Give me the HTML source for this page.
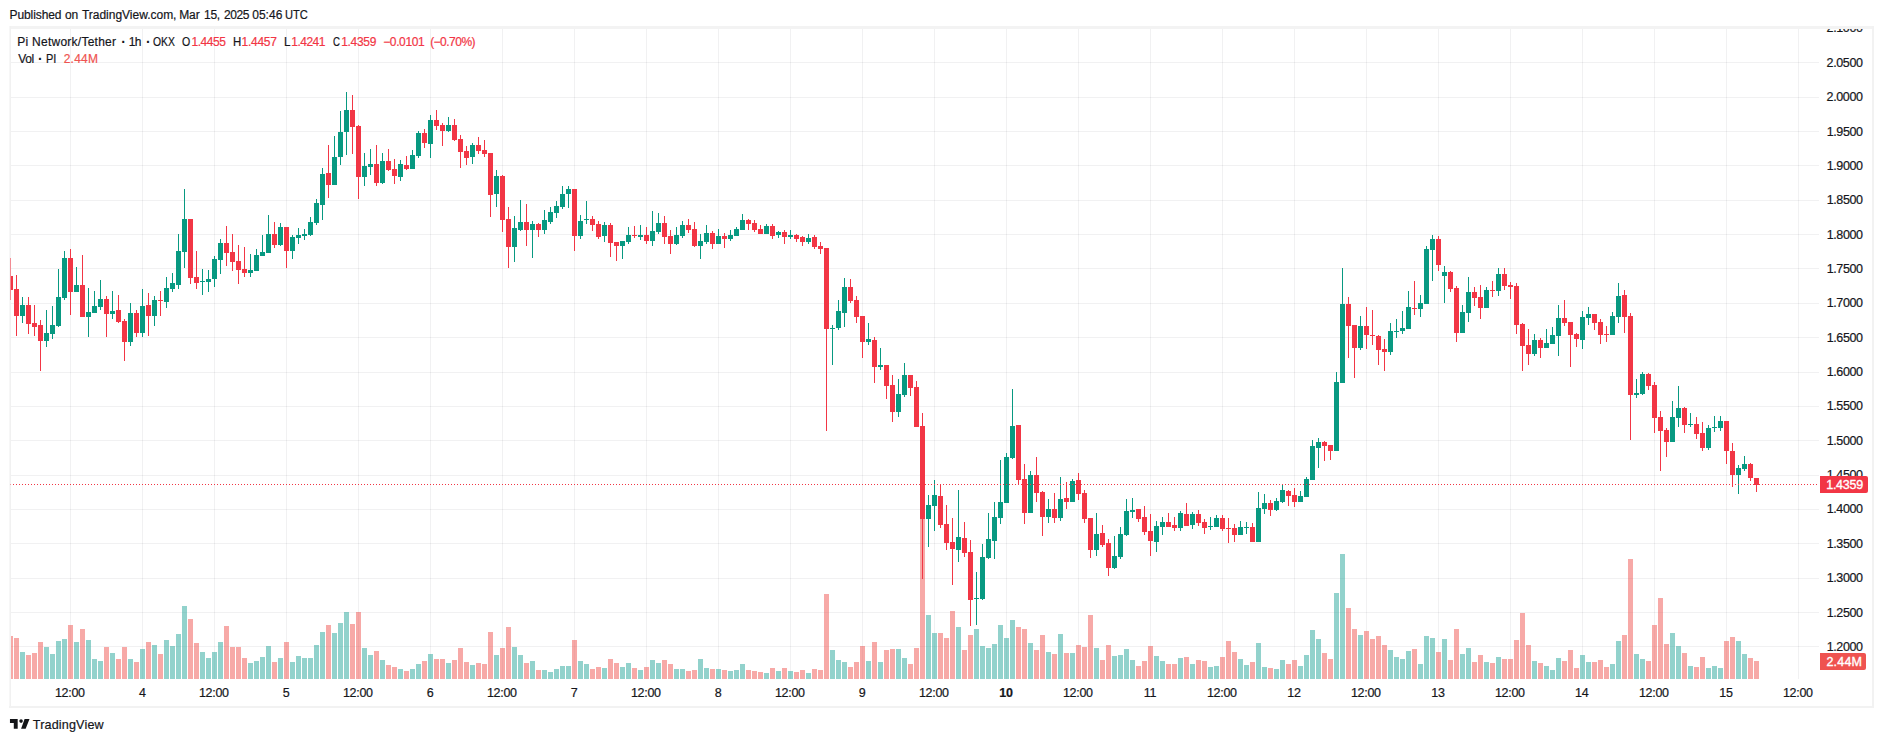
<!DOCTYPE html>
<html><head><meta charset="utf-8"><title>PIUSDT chart</title>
<style>
html,body{margin:0;padding:0;background:#fff;}
body{width:1883px;height:742px;position:relative;overflow:hidden;font-family:"Liberation Sans", sans-serif;}
.t{position:absolute;height:30px;line-height:30px;white-space:pre;transform-origin:0 0;}
</style></head><body>
<svg width="1883" height="742" viewBox="0 0 1883 742" shape-rendering="crispEdges" style="position:absolute;left:0;top:0">
<rect x="9" y="26" width="1865" height="3" fill="#f3f3f3"/>
<rect x="9" y="26" width="1" height="682" fill="#f7f7f7"/><rect x="10" y="26" width="1" height="682" fill="#f1f1f1"/>
<rect x="10" y="484" width="1" height="1" fill="#f23645" fill-opacity="0.45"/>
<rect x="1872" y="26" width="2" height="682" fill="#f2f2f2"/>
<rect x="9" y="706" width="1865" height="2" fill="#f2f2f2"/>
<clipPath id="cp"><rect x="11" y="29" width="1808" height="650"/></clipPath>
<g fill="#2a2e39" fill-opacity="0.065"><rect x="70" y="29" width="1" height="650"/><rect x="142" y="29" width="1" height="650"/><rect x="214" y="29" width="1" height="650"/><rect x="286" y="29" width="1" height="650"/><rect x="358" y="29" width="1" height="650"/><rect x="430" y="29" width="1" height="650"/><rect x="502" y="29" width="1" height="650"/><rect x="574" y="29" width="1" height="650"/><rect x="646" y="29" width="1" height="650"/><rect x="718" y="29" width="1" height="650"/><rect x="790" y="29" width="1" height="650"/><rect x="862" y="29" width="1" height="650"/><rect x="934" y="29" width="1" height="650"/><rect x="1006" y="29" width="1" height="650"/><rect x="1078" y="29" width="1" height="650"/><rect x="1150" y="29" width="1" height="650"/><rect x="1222" y="29" width="1" height="650"/><rect x="1294" y="29" width="1" height="650"/><rect x="1366" y="29" width="1" height="650"/><rect x="1438" y="29" width="1" height="650"/><rect x="1510" y="29" width="1" height="650"/><rect x="1582" y="29" width="1" height="650"/><rect x="1654" y="29" width="1" height="650"/><rect x="1726" y="29" width="1" height="650"/><rect x="1798" y="29" width="1" height="650"/><rect x="11" y="62" width="1808" height="1"/><rect x="11" y="97" width="1808" height="1"/><rect x="11" y="131" width="1808" height="1"/><rect x="11" y="165" width="1808" height="1"/><rect x="11" y="200" width="1808" height="1"/><rect x="11" y="234" width="1808" height="1"/><rect x="11" y="268" width="1808" height="1"/><rect x="11" y="303" width="1808" height="1"/><rect x="11" y="337" width="1808" height="1"/><rect x="11" y="372" width="1808" height="1"/><rect x="11" y="406" width="1808" height="1"/><rect x="11" y="440" width="1808" height="1"/><rect x="11" y="475" width="1808" height="1"/><rect x="11" y="509" width="1808" height="1"/><rect x="11" y="543" width="1808" height="1"/><rect x="11" y="578" width="1808" height="1"/><rect x="11" y="612" width="1808" height="1"/><rect x="11" y="646" width="1808" height="1"/></g>
<g clip-path="url(#cp)"><g fill="#26a69a" fill-opacity="0.5"><rect x="20" y="652" width="5" height="27"/><rect x="44" y="647" width="5" height="32"/><rect x="50" y="654" width="5" height="25"/><rect x="56" y="641" width="5" height="38"/><rect x="62" y="639" width="5" height="40"/><rect x="74" y="642" width="5" height="37"/><rect x="86" y="640" width="5" height="39"/><rect x="92" y="659" width="5" height="20"/><rect x="98" y="661" width="5" height="18"/><rect x="110" y="653" width="5" height="26"/><rect x="128" y="659" width="5" height="20"/><rect x="140" y="649" width="5" height="30"/><rect x="152" y="645" width="5" height="34"/><rect x="164" y="640" width="5" height="39"/><rect x="170" y="646" width="5" height="33"/><rect x="176" y="634" width="5" height="45"/><rect x="182" y="606" width="5" height="73"/><rect x="200" y="652" width="5" height="27"/><rect x="206" y="658" width="5" height="21"/><rect x="212" y="652" width="5" height="27"/><rect x="218" y="642" width="5" height="37"/><rect x="248" y="663" width="5" height="16"/><rect x="254" y="661" width="5" height="18"/><rect x="260" y="657" width="5" height="22"/><rect x="266" y="646" width="5" height="33"/><rect x="278" y="658" width="5" height="21"/><rect x="290" y="662" width="5" height="17"/><rect x="296" y="656" width="5" height="23"/><rect x="302" y="658" width="5" height="21"/><rect x="308" y="658" width="5" height="21"/><rect x="314" y="645" width="5" height="34"/><rect x="320" y="632" width="5" height="47"/><rect x="332" y="633" width="5" height="46"/><rect x="338" y="623" width="5" height="56"/><rect x="344" y="612" width="5" height="67"/><rect x="362" y="648" width="5" height="31"/><rect x="368" y="655" width="5" height="24"/><rect x="380" y="660" width="5" height="19"/><rect x="398" y="669" width="5" height="10"/><rect x="410" y="669" width="5" height="10"/><rect x="416" y="664" width="5" height="15"/><rect x="428" y="654" width="5" height="25"/><rect x="446" y="663" width="5" height="16"/><rect x="470" y="665" width="5" height="14"/><rect x="494" y="655" width="5" height="24"/><rect x="512" y="647" width="5" height="32"/><rect x="518" y="655" width="5" height="24"/><rect x="530" y="661" width="5" height="18"/><rect x="542" y="670" width="5" height="9"/><rect x="548" y="672" width="5" height="7"/><rect x="554" y="669" width="5" height="10"/><rect x="560" y="666" width="5" height="13"/><rect x="566" y="666" width="5" height="13"/><rect x="578" y="661" width="5" height="18"/><rect x="584" y="664" width="5" height="15"/><rect x="602" y="668" width="5" height="11"/><rect x="620" y="667" width="5" height="12"/><rect x="626" y="663" width="5" height="16"/><rect x="638" y="670" width="5" height="9"/><rect x="650" y="660" width="5" height="19"/><rect x="656" y="663" width="5" height="16"/><rect x="674" y="669" width="5" height="10"/><rect x="680" y="669" width="5" height="10"/><rect x="698" y="659" width="5" height="20"/><rect x="704" y="668" width="5" height="11"/><rect x="716" y="669" width="5" height="10"/><rect x="728" y="671" width="5" height="8"/><rect x="734" y="670" width="5" height="9"/><rect x="740" y="664" width="5" height="15"/><rect x="764" y="673" width="5" height="6"/><rect x="776" y="671" width="5" height="8"/><rect x="788" y="671" width="5" height="8"/><rect x="806" y="673" width="5" height="6"/><rect x="830" y="650" width="5" height="29"/><rect x="836" y="660" width="5" height="19"/><rect x="842" y="662" width="5" height="17"/><rect x="866" y="661" width="5" height="18"/><rect x="878" y="662" width="5" height="17"/><rect x="896" y="649" width="5" height="30"/><rect x="902" y="658" width="5" height="21"/><rect x="926" y="615" width="5" height="64"/><rect x="932" y="633" width="5" height="46"/><rect x="956" y="627" width="5" height="52"/><rect x="974" y="629" width="5" height="50"/><rect x="980" y="646" width="5" height="33"/><rect x="986" y="648" width="5" height="31"/><rect x="992" y="644" width="5" height="35"/><rect x="998" y="625" width="5" height="54"/><rect x="1004" y="638" width="5" height="41"/><rect x="1010" y="620" width="5" height="59"/><rect x="1028" y="643" width="5" height="36"/><rect x="1046" y="652" width="5" height="27"/><rect x="1058" y="634" width="5" height="45"/><rect x="1070" y="653" width="5" height="26"/><rect x="1094" y="648" width="5" height="31"/><rect x="1112" y="656" width="5" height="23"/><rect x="1118" y="655" width="5" height="24"/><rect x="1124" y="649" width="5" height="30"/><rect x="1130" y="660" width="5" height="19"/><rect x="1154" y="656" width="5" height="23"/><rect x="1160" y="661" width="5" height="18"/><rect x="1178" y="658" width="5" height="21"/><rect x="1190" y="664" width="5" height="15"/><rect x="1208" y="667" width="5" height="12"/><rect x="1214" y="666" width="5" height="13"/><rect x="1238" y="659" width="5" height="20"/><rect x="1244" y="665" width="5" height="14"/><rect x="1256" y="643" width="5" height="36"/><rect x="1262" y="667" width="5" height="12"/><rect x="1274" y="669" width="5" height="10"/><rect x="1280" y="660" width="5" height="19"/><rect x="1298" y="666" width="5" height="13"/><rect x="1304" y="655" width="5" height="24"/><rect x="1310" y="630" width="5" height="49"/><rect x="1316" y="639" width="5" height="40"/><rect x="1334" y="593" width="5" height="86"/><rect x="1340" y="554" width="5" height="125"/><rect x="1358" y="635" width="5" height="44"/><rect x="1388" y="650" width="5" height="29"/><rect x="1394" y="657" width="5" height="22"/><rect x="1400" y="659" width="5" height="20"/><rect x="1406" y="651" width="5" height="28"/><rect x="1418" y="664" width="5" height="15"/><rect x="1424" y="636" width="5" height="43"/><rect x="1430" y="638" width="5" height="41"/><rect x="1442" y="639" width="5" height="40"/><rect x="1460" y="654" width="5" height="25"/><rect x="1466" y="648" width="5" height="31"/><rect x="1484" y="662" width="5" height="17"/><rect x="1496" y="657" width="5" height="22"/><rect x="1532" y="661" width="5" height="18"/><rect x="1544" y="666" width="5" height="13"/><rect x="1550" y="670" width="5" height="9"/><rect x="1556" y="658" width="5" height="21"/><rect x="1580" y="655" width="5" height="24"/><rect x="1586" y="662" width="5" height="17"/><rect x="1610" y="664" width="5" height="15"/><rect x="1616" y="641" width="5" height="38"/><rect x="1634" y="654" width="5" height="25"/><rect x="1640" y="659" width="5" height="20"/><rect x="1670" y="633" width="5" height="46"/><rect x="1676" y="646" width="5" height="33"/><rect x="1688" y="666" width="5" height="13"/><rect x="1706" y="668" width="5" height="11"/><rect x="1712" y="666" width="5" height="13"/><rect x="1718" y="668" width="5" height="11"/><rect x="1736" y="641" width="5" height="38"/><rect x="1742" y="654" width="5" height="25"/></g><g fill="#ef5350" fill-opacity="0.5"><rect x="8" y="636" width="5" height="43"/><rect x="14" y="638" width="5" height="41"/><rect x="26" y="655" width="5" height="24"/><rect x="32" y="653" width="5" height="26"/><rect x="38" y="642" width="5" height="37"/><rect x="68" y="625" width="5" height="54"/><rect x="80" y="629" width="5" height="50"/><rect x="104" y="647" width="5" height="32"/><rect x="116" y="659" width="5" height="20"/><rect x="122" y="647" width="5" height="32"/><rect x="134" y="662" width="5" height="17"/><rect x="146" y="642" width="5" height="37"/><rect x="158" y="654" width="5" height="25"/><rect x="188" y="619" width="5" height="60"/><rect x="194" y="643" width="5" height="36"/><rect x="224" y="626" width="5" height="53"/><rect x="230" y="647" width="5" height="32"/><rect x="236" y="647" width="5" height="32"/><rect x="242" y="658" width="5" height="21"/><rect x="272" y="662" width="5" height="17"/><rect x="284" y="642" width="5" height="37"/><rect x="326" y="625" width="5" height="54"/><rect x="350" y="624" width="5" height="55"/><rect x="356" y="612" width="5" height="67"/><rect x="374" y="651" width="5" height="28"/><rect x="386" y="665" width="5" height="14"/><rect x="392" y="667" width="5" height="12"/><rect x="404" y="671" width="5" height="8"/><rect x="422" y="661" width="5" height="18"/><rect x="434" y="659" width="5" height="20"/><rect x="440" y="659" width="5" height="20"/><rect x="452" y="660" width="5" height="19"/><rect x="458" y="648" width="5" height="31"/><rect x="464" y="662" width="5" height="17"/><rect x="476" y="663" width="5" height="16"/><rect x="482" y="664" width="5" height="15"/><rect x="488" y="632" width="5" height="47"/><rect x="500" y="648" width="5" height="31"/><rect x="506" y="627" width="5" height="52"/><rect x="524" y="663" width="5" height="16"/><rect x="536" y="670" width="5" height="9"/><rect x="572" y="640" width="5" height="39"/><rect x="590" y="669" width="5" height="10"/><rect x="596" y="667" width="5" height="12"/><rect x="608" y="659" width="5" height="20"/><rect x="614" y="663" width="5" height="16"/><rect x="632" y="668" width="5" height="11"/><rect x="644" y="667" width="5" height="12"/><rect x="662" y="660" width="5" height="19"/><rect x="668" y="664" width="5" height="15"/><rect x="686" y="671" width="5" height="8"/><rect x="692" y="670" width="5" height="9"/><rect x="710" y="669" width="5" height="10"/><rect x="722" y="670" width="5" height="9"/><rect x="746" y="670" width="5" height="9"/><rect x="752" y="671" width="5" height="8"/><rect x="758" y="672" width="5" height="7"/><rect x="770" y="668" width="5" height="11"/><rect x="782" y="668" width="5" height="11"/><rect x="794" y="672" width="5" height="7"/><rect x="800" y="670" width="5" height="9"/><rect x="812" y="669" width="5" height="10"/><rect x="818" y="670" width="5" height="9"/><rect x="824" y="594" width="5" height="85"/><rect x="848" y="667" width="5" height="12"/><rect x="854" y="662" width="5" height="17"/><rect x="860" y="646" width="5" height="33"/><rect x="872" y="642" width="5" height="37"/><rect x="884" y="650" width="5" height="29"/><rect x="890" y="649" width="5" height="30"/><rect x="908" y="664" width="5" height="15"/><rect x="914" y="648" width="5" height="31"/><rect x="920" y="505" width="5" height="174"/><rect x="938" y="633" width="5" height="46"/><rect x="944" y="638" width="5" height="41"/><rect x="950" y="611" width="5" height="68"/><rect x="962" y="650" width="5" height="29"/><rect x="968" y="635" width="5" height="44"/><rect x="1016" y="627" width="5" height="52"/><rect x="1022" y="629" width="5" height="50"/><rect x="1034" y="650" width="5" height="29"/><rect x="1040" y="635" width="5" height="44"/><rect x="1052" y="654" width="5" height="25"/><rect x="1064" y="653" width="5" height="26"/><rect x="1076" y="645" width="5" height="34"/><rect x="1082" y="647" width="5" height="32"/><rect x="1088" y="615" width="5" height="64"/><rect x="1100" y="660" width="5" height="19"/><rect x="1106" y="645" width="5" height="34"/><rect x="1136" y="666" width="5" height="13"/><rect x="1142" y="661" width="5" height="18"/><rect x="1148" y="646" width="5" height="33"/><rect x="1166" y="664" width="5" height="15"/><rect x="1172" y="664" width="5" height="15"/><rect x="1184" y="657" width="5" height="22"/><rect x="1196" y="660" width="5" height="19"/><rect x="1202" y="661" width="5" height="18"/><rect x="1220" y="657" width="5" height="22"/><rect x="1226" y="641" width="5" height="38"/><rect x="1232" y="652" width="5" height="27"/><rect x="1250" y="662" width="5" height="17"/><rect x="1268" y="668" width="5" height="11"/><rect x="1286" y="664" width="5" height="15"/><rect x="1292" y="660" width="5" height="19"/><rect x="1322" y="653" width="5" height="26"/><rect x="1328" y="659" width="5" height="20"/><rect x="1346" y="608" width="5" height="71"/><rect x="1352" y="629" width="5" height="50"/><rect x="1364" y="631" width="5" height="48"/><rect x="1370" y="639" width="5" height="40"/><rect x="1376" y="636" width="5" height="43"/><rect x="1382" y="645" width="5" height="34"/><rect x="1412" y="649" width="5" height="30"/><rect x="1436" y="652" width="5" height="27"/><rect x="1448" y="660" width="5" height="19"/><rect x="1454" y="629" width="5" height="50"/><rect x="1472" y="662" width="5" height="17"/><rect x="1478" y="655" width="5" height="24"/><rect x="1490" y="663" width="5" height="16"/><rect x="1502" y="659" width="5" height="20"/><rect x="1508" y="659" width="5" height="20"/><rect x="1514" y="640" width="5" height="39"/><rect x="1520" y="613" width="5" height="66"/><rect x="1526" y="645" width="5" height="34"/><rect x="1538" y="663" width="5" height="16"/><rect x="1562" y="661" width="5" height="18"/><rect x="1568" y="650" width="5" height="29"/><rect x="1574" y="668" width="5" height="11"/><rect x="1592" y="662" width="5" height="17"/><rect x="1598" y="660" width="5" height="19"/><rect x="1604" y="667" width="5" height="12"/><rect x="1622" y="635" width="5" height="44"/><rect x="1628" y="559" width="5" height="120"/><rect x="1646" y="661" width="5" height="18"/><rect x="1652" y="625" width="5" height="54"/><rect x="1658" y="598" width="5" height="81"/><rect x="1664" y="644" width="5" height="35"/><rect x="1682" y="653" width="5" height="26"/><rect x="1694" y="667" width="5" height="12"/><rect x="1700" y="657" width="5" height="22"/><rect x="1724" y="641" width="5" height="38"/><rect x="1730" y="637" width="5" height="42"/><rect x="1748" y="658" width="5" height="21"/><rect x="1754" y="661" width="5" height="18"/></g></g>
<g clip-path="url(#cp)"><g fill="#089981"><rect x="22" y="297" width="1" height="26"/><rect x="20" y="305" width="5" height="11"/><rect x="46" y="310" width="1" height="37"/><rect x="44" y="333" width="5" height="8"/><rect x="52" y="306" width="1" height="33"/><rect x="50" y="325" width="5" height="9"/><rect x="58" y="269" width="1" height="58"/><rect x="56" y="297" width="5" height="29"/><rect x="64" y="251" width="1" height="49"/><rect x="62" y="258" width="5" height="40"/><rect x="76" y="267" width="1" height="25"/><rect x="74" y="285" width="5" height="7"/><rect x="88" y="288" width="1" height="49"/><rect x="86" y="312" width="5" height="5"/><rect x="94" y="291" width="1" height="22"/><rect x="92" y="306" width="5" height="7"/><rect x="100" y="280" width="1" height="30"/><rect x="98" y="299" width="5" height="8"/><rect x="112" y="291" width="1" height="28"/><rect x="110" y="311" width="5" height="3"/><rect x="130" y="303" width="1" height="43"/><rect x="128" y="313" width="5" height="29"/><rect x="142" y="289" width="1" height="48"/><rect x="140" y="306" width="5" height="27"/><rect x="154" y="296" width="1" height="30"/><rect x="152" y="300" width="5" height="16"/><rect x="166" y="277" width="1" height="31"/><rect x="164" y="288" width="5" height="14"/><rect x="172" y="273" width="1" height="19"/><rect x="170" y="283" width="5" height="6"/><rect x="178" y="234" width="1" height="55"/><rect x="176" y="251" width="5" height="34"/><rect x="184" y="189" width="1" height="79"/><rect x="182" y="219" width="5" height="33"/><rect x="202" y="269" width="1" height="26"/><rect x="200" y="281" width="5" height="1"/><rect x="208" y="270" width="1" height="22"/><rect x="206" y="279" width="5" height="3"/><rect x="214" y="256" width="1" height="31"/><rect x="212" y="259" width="5" height="20"/><rect x="220" y="239" width="1" height="35"/><rect x="218" y="243" width="5" height="17"/><rect x="250" y="254" width="1" height="23"/><rect x="248" y="270" width="5" height="3"/><rect x="256" y="249" width="1" height="22"/><rect x="254" y="255" width="5" height="16"/><rect x="262" y="235" width="1" height="21"/><rect x="260" y="252" width="5" height="4"/><rect x="268" y="215" width="1" height="38"/><rect x="266" y="234" width="5" height="19"/><rect x="280" y="223" width="1" height="23"/><rect x="278" y="227" width="5" height="18"/><rect x="292" y="235" width="1" height="24"/><rect x="290" y="237" width="5" height="14"/><rect x="298" y="228" width="1" height="16"/><rect x="296" y="235" width="5" height="3"/><rect x="304" y="229" width="1" height="11"/><rect x="302" y="234" width="5" height="2"/><rect x="310" y="217" width="1" height="19"/><rect x="308" y="222" width="5" height="13"/><rect x="316" y="199" width="1" height="26"/><rect x="314" y="203" width="5" height="20"/><rect x="322" y="168" width="1" height="52"/><rect x="320" y="174" width="5" height="31"/><rect x="334" y="136" width="1" height="49"/><rect x="332" y="157" width="5" height="28"/><rect x="340" y="111" width="1" height="54"/><rect x="338" y="132" width="5" height="25"/><rect x="346" y="92" width="1" height="63"/><rect x="344" y="110" width="5" height="22"/><rect x="364" y="153" width="1" height="33"/><rect x="362" y="166" width="5" height="11"/><rect x="370" y="149" width="1" height="26"/><rect x="368" y="164" width="5" height="3"/><rect x="382" y="153" width="1" height="31"/><rect x="380" y="161" width="5" height="22"/><rect x="400" y="160" width="1" height="21"/><rect x="398" y="164" width="5" height="13"/><rect x="412" y="150" width="1" height="19"/><rect x="410" y="155" width="5" height="14"/><rect x="418" y="131" width="1" height="27"/><rect x="416" y="133" width="5" height="23"/><rect x="430" y="115" width="1" height="43"/><rect x="428" y="120" width="5" height="24"/><rect x="448" y="117" width="1" height="15"/><rect x="446" y="125" width="5" height="6"/><rect x="472" y="143" width="1" height="21"/><rect x="470" y="145" width="5" height="12"/><rect x="496" y="170" width="1" height="37"/><rect x="494" y="176" width="5" height="18"/><rect x="514" y="216" width="1" height="46"/><rect x="512" y="228" width="5" height="19"/><rect x="520" y="200" width="1" height="31"/><rect x="518" y="222" width="5" height="8"/><rect x="532" y="221" width="1" height="37"/><rect x="530" y="224" width="5" height="6"/><rect x="544" y="210" width="1" height="24"/><rect x="542" y="220" width="5" height="10"/><rect x="550" y="207" width="1" height="17"/><rect x="548" y="212" width="5" height="10"/><rect x="556" y="201" width="1" height="17"/><rect x="554" y="206" width="5" height="7"/><rect x="562" y="186" width="1" height="23"/><rect x="560" y="194" width="5" height="13"/><rect x="568" y="186" width="1" height="22"/><rect x="566" y="189" width="5" height="5"/><rect x="580" y="215" width="1" height="24"/><rect x="578" y="221" width="5" height="15"/><rect x="586" y="201" width="1" height="23"/><rect x="584" y="219" width="5" height="1"/><rect x="604" y="222" width="1" height="20"/><rect x="602" y="225" width="5" height="11"/><rect x="622" y="241" width="1" height="18"/><rect x="620" y="241" width="5" height="5"/><rect x="628" y="227" width="1" height="17"/><rect x="626" y="235" width="5" height="7"/><rect x="640" y="225" width="1" height="15"/><rect x="638" y="235" width="5" height="2"/><rect x="652" y="211" width="1" height="35"/><rect x="650" y="231" width="5" height="10"/><rect x="658" y="213" width="1" height="21"/><rect x="656" y="223" width="5" height="9"/><rect x="676" y="227" width="1" height="18"/><rect x="674" y="235" width="5" height="9"/><rect x="682" y="221" width="1" height="17"/><rect x="680" y="225" width="5" height="11"/><rect x="700" y="234" width="1" height="25"/><rect x="698" y="241" width="5" height="5"/><rect x="706" y="225" width="1" height="19"/><rect x="704" y="233" width="5" height="9"/><rect x="718" y="229" width="1" height="15"/><rect x="716" y="236" width="5" height="8"/><rect x="730" y="230" width="1" height="11"/><rect x="728" y="235" width="5" height="4"/><rect x="736" y="227" width="1" height="9"/><rect x="734" y="229" width="5" height="7"/><rect x="742" y="214" width="1" height="16"/><rect x="740" y="220" width="5" height="10"/><rect x="766" y="224" width="1" height="10"/><rect x="764" y="226" width="5" height="8"/><rect x="778" y="231" width="1" height="7"/><rect x="776" y="232" width="5" height="3"/><rect x="790" y="230" width="1" height="9"/><rect x="788" y="235" width="5" height="2"/><rect x="808" y="234" width="1" height="10"/><rect x="806" y="238" width="5" height="4"/><rect x="832" y="325" width="1" height="40"/><rect x="830" y="328" width="5" height="1"/><rect x="838" y="300" width="1" height="30"/><rect x="836" y="311" width="5" height="17"/><rect x="844" y="278" width="1" height="49"/><rect x="842" y="287" width="5" height="26"/><rect x="868" y="323" width="1" height="22"/><rect x="866" y="339" width="5" height="3"/><rect x="880" y="348" width="1" height="22"/><rect x="878" y="365" width="5" height="2"/><rect x="898" y="379" width="1" height="38"/><rect x="896" y="394" width="5" height="18"/><rect x="904" y="363" width="1" height="34"/><rect x="902" y="375" width="5" height="20"/><rect x="928" y="495" width="1" height="52"/><rect x="926" y="505" width="5" height="14"/><rect x="934" y="480" width="1" height="51"/><rect x="932" y="495" width="5" height="11"/><rect x="958" y="490" width="1" height="72"/><rect x="956" y="537" width="5" height="13"/><rect x="976" y="572" width="1" height="53"/><rect x="974" y="598" width="5" height="1"/><rect x="982" y="544" width="1" height="56"/><rect x="980" y="557" width="5" height="42"/><rect x="988" y="513" width="1" height="46"/><rect x="986" y="539" width="5" height="19"/><rect x="994" y="502" width="1" height="57"/><rect x="992" y="517" width="5" height="24"/><rect x="1000" y="460" width="1" height="64"/><rect x="998" y="502" width="5" height="16"/><rect x="1006" y="453" width="1" height="50"/><rect x="1004" y="457" width="5" height="46"/><rect x="1012" y="389" width="1" height="70"/><rect x="1010" y="426" width="5" height="32"/><rect x="1030" y="471" width="1" height="42"/><rect x="1028" y="475" width="5" height="38"/><rect x="1048" y="499" width="1" height="24"/><rect x="1046" y="509" width="5" height="8"/><rect x="1060" y="477" width="1" height="44"/><rect x="1058" y="499" width="5" height="19"/><rect x="1072" y="479" width="1" height="23"/><rect x="1070" y="481" width="5" height="21"/><rect x="1096" y="513" width="1" height="43"/><rect x="1094" y="534" width="5" height="16"/><rect x="1114" y="536" width="1" height="33"/><rect x="1112" y="556" width="5" height="12"/><rect x="1120" y="527" width="1" height="32"/><rect x="1118" y="534" width="5" height="23"/><rect x="1126" y="499" width="1" height="37"/><rect x="1124" y="511" width="5" height="24"/><rect x="1132" y="498" width="1" height="20"/><rect x="1130" y="510" width="5" height="2"/><rect x="1156" y="521" width="1" height="31"/><rect x="1154" y="526" width="5" height="16"/><rect x="1162" y="517" width="1" height="18"/><rect x="1160" y="522" width="5" height="5"/><rect x="1180" y="511" width="1" height="20"/><rect x="1178" y="513" width="5" height="15"/><rect x="1192" y="512" width="1" height="17"/><rect x="1190" y="514" width="5" height="11"/><rect x="1210" y="517" width="1" height="13"/><rect x="1208" y="526" width="5" height="1"/><rect x="1216" y="515" width="1" height="12"/><rect x="1214" y="518" width="5" height="9"/><rect x="1240" y="521" width="1" height="14"/><rect x="1238" y="527" width="5" height="8"/><rect x="1246" y="522" width="1" height="12"/><rect x="1244" y="527" width="5" height="1"/><rect x="1258" y="492" width="1" height="50"/><rect x="1256" y="508" width="5" height="34"/><rect x="1264" y="494" width="1" height="20"/><rect x="1262" y="503" width="5" height="6"/><rect x="1276" y="498" width="1" height="13"/><rect x="1274" y="501" width="5" height="9"/><rect x="1282" y="484" width="1" height="19"/><rect x="1280" y="490" width="5" height="12"/><rect x="1300" y="491" width="1" height="11"/><rect x="1298" y="496" width="5" height="6"/><rect x="1306" y="477" width="1" height="20"/><rect x="1304" y="479" width="5" height="18"/><rect x="1312" y="440" width="1" height="40"/><rect x="1310" y="446" width="5" height="34"/><rect x="1318" y="438" width="1" height="30"/><rect x="1316" y="442" width="5" height="6"/><rect x="1336" y="372" width="1" height="79"/><rect x="1334" y="382" width="5" height="69"/><rect x="1342" y="268" width="1" height="115"/><rect x="1340" y="304" width="5" height="79"/><rect x="1360" y="316" width="1" height="34"/><rect x="1358" y="326" width="5" height="22"/><rect x="1390" y="323" width="1" height="32"/><rect x="1388" y="331" width="5" height="21"/><rect x="1396" y="319" width="1" height="19"/><rect x="1394" y="331" width="5" height="1"/><rect x="1402" y="311" width="1" height="23"/><rect x="1400" y="328" width="5" height="3"/><rect x="1408" y="291" width="1" height="38"/><rect x="1406" y="307" width="5" height="22"/><rect x="1420" y="295" width="1" height="22"/><rect x="1418" y="303" width="5" height="6"/><rect x="1426" y="246" width="1" height="58"/><rect x="1424" y="249" width="5" height="55"/><rect x="1432" y="235" width="1" height="46"/><rect x="1430" y="239" width="5" height="11"/><rect x="1444" y="266" width="1" height="37"/><rect x="1442" y="272" width="5" height="4"/><rect x="1462" y="305" width="1" height="28"/><rect x="1460" y="312" width="5" height="21"/><rect x="1468" y="277" width="1" height="45"/><rect x="1466" y="292" width="5" height="21"/><rect x="1486" y="287" width="1" height="21"/><rect x="1484" y="290" width="5" height="18"/><rect x="1498" y="268" width="1" height="28"/><rect x="1496" y="274" width="5" height="17"/><rect x="1534" y="334" width="1" height="22"/><rect x="1532" y="340" width="5" height="14"/><rect x="1546" y="329" width="1" height="19"/><rect x="1544" y="343" width="5" height="5"/><rect x="1552" y="327" width="1" height="17"/><rect x="1550" y="335" width="5" height="9"/><rect x="1558" y="305" width="1" height="51"/><rect x="1556" y="318" width="5" height="18"/><rect x="1582" y="311" width="1" height="38"/><rect x="1580" y="317" width="5" height="23"/><rect x="1588" y="307" width="1" height="18"/><rect x="1586" y="314" width="5" height="4"/><rect x="1612" y="312" width="1" height="23"/><rect x="1610" y="316" width="5" height="19"/><rect x="1618" y="283" width="1" height="40"/><rect x="1616" y="296" width="5" height="21"/><rect x="1636" y="379" width="1" height="19"/><rect x="1634" y="393" width="5" height="2"/><rect x="1642" y="372" width="1" height="23"/><rect x="1640" y="374" width="5" height="20"/><rect x="1672" y="401" width="1" height="41"/><rect x="1670" y="417" width="5" height="25"/><rect x="1678" y="386" width="1" height="41"/><rect x="1676" y="408" width="5" height="10"/><rect x="1690" y="413" width="1" height="14"/><rect x="1688" y="424" width="5" height="1"/><rect x="1708" y="425" width="1" height="25"/><rect x="1706" y="428" width="5" height="20"/><rect x="1714" y="416" width="1" height="16"/><rect x="1712" y="427" width="5" height="1"/><rect x="1720" y="416" width="1" height="15"/><rect x="1718" y="421" width="5" height="7"/><rect x="1738" y="465" width="1" height="29"/><rect x="1736" y="468" width="5" height="7"/><rect x="1744" y="456" width="1" height="15"/><rect x="1742" y="464" width="5" height="5"/></g><g fill="#f23645"><rect x="10" y="258" width="1" height="42"/><rect x="8" y="276" width="5" height="14"/><rect x="16" y="275" width="1" height="61"/><rect x="14" y="289" width="5" height="27"/><rect x="28" y="297" width="1" height="37"/><rect x="26" y="305" width="5" height="19"/><rect x="34" y="305" width="1" height="31"/><rect x="32" y="323" width="5" height="4"/><rect x="40" y="320" width="1" height="51"/><rect x="38" y="325" width="5" height="16"/><rect x="70" y="249" width="1" height="66"/><rect x="68" y="258" width="5" height="34"/><rect x="82" y="255" width="1" height="62"/><rect x="80" y="285" width="5" height="32"/><rect x="106" y="296" width="1" height="41"/><rect x="104" y="299" width="5" height="15"/><rect x="118" y="295" width="1" height="28"/><rect x="116" y="310" width="5" height="12"/><rect x="124" y="319" width="1" height="42"/><rect x="122" y="321" width="5" height="21"/><rect x="136" y="310" width="1" height="27"/><rect x="134" y="313" width="5" height="20"/><rect x="148" y="293" width="1" height="43"/><rect x="146" y="305" width="5" height="11"/><rect x="160" y="291" width="1" height="25"/><rect x="158" y="300" width="5" height="1"/><rect x="190" y="219" width="1" height="65"/><rect x="188" y="219" width="5" height="59"/><rect x="196" y="251" width="1" height="38"/><rect x="194" y="277" width="5" height="6"/><rect x="226" y="226" width="1" height="40"/><rect x="224" y="243" width="5" height="10"/><rect x="232" y="234" width="1" height="37"/><rect x="230" y="252" width="5" height="10"/><rect x="238" y="245" width="1" height="39"/><rect x="236" y="261" width="5" height="9"/><rect x="244" y="247" width="1" height="30"/><rect x="242" y="269" width="5" height="4"/><rect x="274" y="222" width="1" height="26"/><rect x="272" y="234" width="5" height="11"/><rect x="286" y="227" width="1" height="41"/><rect x="284" y="227" width="5" height="24"/><rect x="328" y="145" width="1" height="53"/><rect x="326" y="173" width="5" height="12"/><rect x="352" y="95" width="1" height="59"/><rect x="350" y="110" width="5" height="17"/><rect x="358" y="125" width="1" height="74"/><rect x="356" y="126" width="5" height="51"/><rect x="376" y="145" width="1" height="41"/><rect x="374" y="164" width="5" height="19"/><rect x="388" y="149" width="1" height="22"/><rect x="386" y="161" width="5" height="9"/><rect x="394" y="159" width="1" height="25"/><rect x="392" y="169" width="5" height="7"/><rect x="406" y="156" width="1" height="14"/><rect x="404" y="165" width="5" height="4"/><rect x="424" y="129" width="1" height="19"/><rect x="422" y="133" width="5" height="10"/><rect x="436" y="110" width="1" height="20"/><rect x="434" y="120" width="5" height="6"/><rect x="442" y="123" width="1" height="23"/><rect x="440" y="125" width="5" height="6"/><rect x="454" y="119" width="1" height="22"/><rect x="452" y="125" width="5" height="15"/><rect x="460" y="135" width="1" height="33"/><rect x="458" y="139" width="5" height="13"/><rect x="466" y="146" width="1" height="19"/><rect x="464" y="151" width="5" height="7"/><rect x="478" y="137" width="1" height="17"/><rect x="476" y="145" width="5" height="6"/><rect x="484" y="140" width="1" height="17"/><rect x="482" y="150" width="5" height="4"/><rect x="490" y="153" width="1" height="64"/><rect x="488" y="153" width="5" height="42"/><rect x="502" y="175" width="1" height="57"/><rect x="500" y="176" width="5" height="44"/><rect x="508" y="207" width="1" height="61"/><rect x="506" y="219" width="5" height="28"/><rect x="526" y="204" width="1" height="42"/><rect x="524" y="222" width="5" height="8"/><rect x="538" y="223" width="1" height="14"/><rect x="536" y="224" width="5" height="6"/><rect x="574" y="189" width="1" height="62"/><rect x="572" y="189" width="5" height="47"/><rect x="592" y="216" width="1" height="15"/><rect x="590" y="219" width="5" height="6"/><rect x="598" y="221" width="1" height="18"/><rect x="596" y="224" width="5" height="13"/><rect x="610" y="223" width="1" height="34"/><rect x="608" y="225" width="5" height="18"/><rect x="616" y="242" width="1" height="19"/><rect x="614" y="242" width="5" height="4"/><rect x="634" y="226" width="1" height="12"/><rect x="632" y="235" width="5" height="1"/><rect x="646" y="227" width="1" height="17"/><rect x="644" y="235" width="5" height="6"/><rect x="664" y="216" width="1" height="28"/><rect x="662" y="223" width="5" height="14"/><rect x="670" y="230" width="1" height="24"/><rect x="668" y="236" width="5" height="8"/><rect x="688" y="219" width="1" height="14"/><rect x="686" y="225" width="5" height="5"/><rect x="694" y="222" width="1" height="25"/><rect x="692" y="229" width="5" height="17"/><rect x="712" y="231" width="1" height="18"/><rect x="710" y="233" width="5" height="11"/><rect x="724" y="233" width="1" height="15"/><rect x="722" y="236" width="5" height="3"/><rect x="748" y="219" width="1" height="11"/><rect x="746" y="220" width="5" height="4"/><rect x="754" y="220" width="1" height="12"/><rect x="752" y="223" width="5" height="7"/><rect x="760" y="225" width="1" height="9"/><rect x="758" y="229" width="5" height="5"/><rect x="772" y="224" width="1" height="15"/><rect x="770" y="226" width="5" height="10"/><rect x="784" y="230" width="1" height="14"/><rect x="782" y="232" width="5" height="5"/><rect x="796" y="234" width="1" height="8"/><rect x="794" y="235" width="5" height="4"/><rect x="802" y="236" width="1" height="10"/><rect x="800" y="237" width="5" height="5"/><rect x="814" y="235" width="1" height="14"/><rect x="812" y="237" width="5" height="10"/><rect x="820" y="242" width="1" height="12"/><rect x="818" y="246" width="5" height="3"/><rect x="826" y="248" width="1" height="183"/><rect x="824" y="248" width="5" height="81"/><rect x="850" y="279" width="1" height="24"/><rect x="848" y="287" width="5" height="14"/><rect x="856" y="296" width="1" height="27"/><rect x="854" y="300" width="5" height="17"/><rect x="862" y="316" width="1" height="42"/><rect x="860" y="316" width="5" height="26"/><rect x="874" y="337" width="1" height="46"/><rect x="872" y="340" width="5" height="27"/><rect x="886" y="365" width="1" height="34"/><rect x="884" y="365" width="5" height="21"/><rect x="892" y="375" width="1" height="47"/><rect x="890" y="385" width="5" height="27"/><rect x="910" y="375" width="1" height="21"/><rect x="908" y="375" width="5" height="13"/><rect x="916" y="381" width="1" height="46"/><rect x="914" y="387" width="5" height="40"/><rect x="922" y="413" width="1" height="166"/><rect x="920" y="426" width="5" height="93"/><rect x="940" y="484" width="1" height="44"/><rect x="938" y="496" width="5" height="29"/><rect x="946" y="505" width="1" height="45"/><rect x="944" y="524" width="5" height="19"/><rect x="952" y="518" width="1" height="67"/><rect x="950" y="542" width="5" height="7"/><rect x="964" y="522" width="1" height="35"/><rect x="962" y="538" width="5" height="15"/><rect x="970" y="540" width="1" height="86"/><rect x="968" y="552" width="5" height="48"/><rect x="1018" y="425" width="1" height="60"/><rect x="1016" y="425" width="5" height="55"/><rect x="1024" y="464" width="1" height="60"/><rect x="1022" y="479" width="5" height="34"/><rect x="1036" y="457" width="1" height="45"/><rect x="1034" y="475" width="5" height="18"/><rect x="1042" y="491" width="1" height="45"/><rect x="1040" y="492" width="5" height="25"/><rect x="1054" y="493" width="1" height="30"/><rect x="1052" y="509" width="5" height="9"/><rect x="1066" y="482" width="1" height="27"/><rect x="1064" y="498" width="5" height="4"/><rect x="1078" y="473" width="1" height="27"/><rect x="1076" y="480" width="5" height="14"/><rect x="1084" y="490" width="1" height="33"/><rect x="1082" y="493" width="5" height="26"/><rect x="1090" y="518" width="1" height="40"/><rect x="1088" y="518" width="5" height="32"/><rect x="1102" y="525" width="1" height="22"/><rect x="1100" y="533" width="5" height="12"/><rect x="1108" y="539" width="1" height="37"/><rect x="1106" y="543" width="5" height="25"/><rect x="1138" y="509" width="1" height="13"/><rect x="1136" y="509" width="5" height="10"/><rect x="1144" y="506" width="1" height="29"/><rect x="1142" y="517" width="5" height="15"/><rect x="1150" y="514" width="1" height="42"/><rect x="1148" y="531" width="5" height="10"/><rect x="1168" y="513" width="1" height="14"/><rect x="1166" y="522" width="5" height="5"/><rect x="1174" y="517" width="1" height="14"/><rect x="1172" y="525" width="5" height="3"/><rect x="1186" y="503" width="1" height="23"/><rect x="1184" y="514" width="5" height="12"/><rect x="1198" y="510" width="1" height="16"/><rect x="1196" y="514" width="5" height="9"/><rect x="1204" y="519" width="1" height="15"/><rect x="1202" y="522" width="5" height="6"/><rect x="1222" y="515" width="1" height="16"/><rect x="1220" y="518" width="5" height="11"/><rect x="1228" y="518" width="1" height="25"/><rect x="1226" y="528" width="5" height="1"/><rect x="1234" y="524" width="1" height="18"/><rect x="1232" y="528" width="5" height="7"/><rect x="1252" y="523" width="1" height="19"/><rect x="1250" y="527" width="5" height="15"/><rect x="1270" y="500" width="1" height="16"/><rect x="1268" y="503" width="5" height="7"/><rect x="1288" y="490" width="1" height="16"/><rect x="1286" y="491" width="5" height="5"/><rect x="1294" y="488" width="1" height="19"/><rect x="1292" y="495" width="5" height="7"/><rect x="1324" y="441" width="1" height="20"/><rect x="1322" y="442" width="5" height="4"/><rect x="1330" y="445" width="1" height="15"/><rect x="1328" y="445" width="5" height="6"/><rect x="1348" y="297" width="1" height="61"/><rect x="1346" y="304" width="5" height="22"/><rect x="1354" y="325" width="1" height="53"/><rect x="1352" y="325" width="5" height="23"/><rect x="1366" y="307" width="1" height="42"/><rect x="1364" y="326" width="5" height="9"/><rect x="1372" y="310" width="1" height="35"/><rect x="1370" y="335" width="5" height="1"/><rect x="1378" y="335" width="1" height="30"/><rect x="1376" y="336" width="5" height="14"/><rect x="1384" y="339" width="1" height="32"/><rect x="1382" y="349" width="5" height="3"/><rect x="1414" y="281" width="1" height="34"/><rect x="1412" y="308" width="5" height="1"/><rect x="1438" y="236" width="1" height="35"/><rect x="1436" y="239" width="5" height="26"/><rect x="1450" y="271" width="1" height="21"/><rect x="1448" y="272" width="5" height="17"/><rect x="1456" y="286" width="1" height="56"/><rect x="1454" y="288" width="5" height="45"/><rect x="1474" y="287" width="1" height="19"/><rect x="1472" y="292" width="5" height="6"/><rect x="1480" y="285" width="1" height="34"/><rect x="1478" y="297" width="5" height="11"/><rect x="1492" y="281" width="1" height="16"/><rect x="1490" y="290" width="5" height="1"/><rect x="1504" y="268" width="1" height="22"/><rect x="1502" y="274" width="5" height="12"/><rect x="1510" y="282" width="1" height="17"/><rect x="1508" y="285" width="5" height="2"/><rect x="1516" y="283" width="1" height="51"/><rect x="1514" y="286" width="5" height="39"/><rect x="1522" y="323" width="1" height="48"/><rect x="1520" y="324" width="5" height="22"/><rect x="1528" y="329" width="1" height="36"/><rect x="1526" y="345" width="5" height="9"/><rect x="1540" y="338" width="1" height="20"/><rect x="1538" y="340" width="5" height="8"/><rect x="1564" y="300" width="1" height="26"/><rect x="1562" y="318" width="5" height="5"/><rect x="1570" y="322" width="1" height="45"/><rect x="1568" y="322" width="5" height="13"/><rect x="1576" y="333" width="1" height="14"/><rect x="1574" y="334" width="5" height="5"/><rect x="1594" y="314" width="1" height="16"/><rect x="1592" y="314" width="5" height="9"/><rect x="1600" y="319" width="1" height="25"/><rect x="1598" y="322" width="5" height="13"/><rect x="1606" y="326" width="1" height="16"/><rect x="1604" y="334" width="5" height="1"/><rect x="1624" y="290" width="1" height="43"/><rect x="1622" y="295" width="5" height="22"/><rect x="1630" y="313" width="1" height="127"/><rect x="1628" y="316" width="5" height="79"/><rect x="1648" y="373" width="1" height="17"/><rect x="1646" y="374" width="5" height="12"/><rect x="1654" y="382" width="1" height="51"/><rect x="1652" y="385" width="5" height="33"/><rect x="1660" y="411" width="1" height="60"/><rect x="1658" y="417" width="5" height="14"/><rect x="1666" y="428" width="1" height="29"/><rect x="1664" y="430" width="5" height="12"/><rect x="1684" y="407" width="1" height="26"/><rect x="1682" y="408" width="5" height="17"/><rect x="1696" y="417" width="1" height="22"/><rect x="1694" y="424" width="5" height="10"/><rect x="1702" y="422" width="1" height="29"/><rect x="1700" y="433" width="5" height="15"/><rect x="1726" y="421" width="1" height="43"/><rect x="1724" y="421" width="5" height="30"/><rect x="1732" y="443" width="1" height="44"/><rect x="1730" y="451" width="5" height="24"/><rect x="1750" y="463" width="1" height="18"/><rect x="1748" y="464" width="5" height="14"/><rect x="1756" y="478" width="1" height="14"/><rect x="1754" y="478" width="5" height="7"/></g></g>
<rect x="10" y="258" width="1" height="42" fill="#f23645" fill-opacity="0.55"/>
<g fill="#f23645"><rect x="13" y="484" width="1" height="1"/><rect x="16" y="484" width="1" height="1"/><rect x="19" y="484" width="1" height="1"/><rect x="22" y="484" width="1" height="1"/><rect x="25" y="484" width="1" height="1"/><rect x="28" y="484" width="1" height="1"/><rect x="31" y="484" width="1" height="1"/><rect x="34" y="484" width="1" height="1"/><rect x="37" y="484" width="1" height="1"/><rect x="40" y="484" width="1" height="1"/><rect x="43" y="484" width="1" height="1"/><rect x="46" y="484" width="1" height="1"/><rect x="49" y="484" width="1" height="1"/><rect x="52" y="484" width="1" height="1"/><rect x="55" y="484" width="1" height="1"/><rect x="58" y="484" width="1" height="1"/><rect x="61" y="484" width="1" height="1"/><rect x="64" y="484" width="1" height="1"/><rect x="67" y="484" width="1" height="1"/><rect x="70" y="484" width="1" height="1"/><rect x="73" y="484" width="1" height="1"/><rect x="76" y="484" width="1" height="1"/><rect x="79" y="484" width="1" height="1"/><rect x="82" y="484" width="1" height="1"/><rect x="85" y="484" width="1" height="1"/><rect x="88" y="484" width="1" height="1"/><rect x="91" y="484" width="1" height="1"/><rect x="94" y="484" width="1" height="1"/><rect x="97" y="484" width="1" height="1"/><rect x="100" y="484" width="1" height="1"/><rect x="103" y="484" width="1" height="1"/><rect x="106" y="484" width="1" height="1"/><rect x="109" y="484" width="1" height="1"/><rect x="112" y="484" width="1" height="1"/><rect x="115" y="484" width="1" height="1"/><rect x="118" y="484" width="1" height="1"/><rect x="121" y="484" width="1" height="1"/><rect x="124" y="484" width="1" height="1"/><rect x="127" y="484" width="1" height="1"/><rect x="130" y="484" width="1" height="1"/><rect x="133" y="484" width="1" height="1"/><rect x="136" y="484" width="1" height="1"/><rect x="139" y="484" width="1" height="1"/><rect x="142" y="484" width="1" height="1"/><rect x="145" y="484" width="1" height="1"/><rect x="148" y="484" width="1" height="1"/><rect x="151" y="484" width="1" height="1"/><rect x="154" y="484" width="1" height="1"/><rect x="157" y="484" width="1" height="1"/><rect x="160" y="484" width="1" height="1"/><rect x="163" y="484" width="1" height="1"/><rect x="166" y="484" width="1" height="1"/><rect x="169" y="484" width="1" height="1"/><rect x="172" y="484" width="1" height="1"/><rect x="175" y="484" width="1" height="1"/><rect x="178" y="484" width="1" height="1"/><rect x="181" y="484" width="1" height="1"/><rect x="184" y="484" width="1" height="1"/><rect x="187" y="484" width="1" height="1"/><rect x="190" y="484" width="1" height="1"/><rect x="193" y="484" width="1" height="1"/><rect x="196" y="484" width="1" height="1"/><rect x="199" y="484" width="1" height="1"/><rect x="202" y="484" width="1" height="1"/><rect x="205" y="484" width="1" height="1"/><rect x="208" y="484" width="1" height="1"/><rect x="211" y="484" width="1" height="1"/><rect x="214" y="484" width="1" height="1"/><rect x="217" y="484" width="1" height="1"/><rect x="220" y="484" width="1" height="1"/><rect x="223" y="484" width="1" height="1"/><rect x="226" y="484" width="1" height="1"/><rect x="229" y="484" width="1" height="1"/><rect x="232" y="484" width="1" height="1"/><rect x="235" y="484" width="1" height="1"/><rect x="238" y="484" width="1" height="1"/><rect x="241" y="484" width="1" height="1"/><rect x="244" y="484" width="1" height="1"/><rect x="247" y="484" width="1" height="1"/><rect x="250" y="484" width="1" height="1"/><rect x="253" y="484" width="1" height="1"/><rect x="256" y="484" width="1" height="1"/><rect x="259" y="484" width="1" height="1"/><rect x="262" y="484" width="1" height="1"/><rect x="265" y="484" width="1" height="1"/><rect x="268" y="484" width="1" height="1"/><rect x="271" y="484" width="1" height="1"/><rect x="274" y="484" width="1" height="1"/><rect x="277" y="484" width="1" height="1"/><rect x="280" y="484" width="1" height="1"/><rect x="283" y="484" width="1" height="1"/><rect x="286" y="484" width="1" height="1"/><rect x="289" y="484" width="1" height="1"/><rect x="292" y="484" width="1" height="1"/><rect x="295" y="484" width="1" height="1"/><rect x="298" y="484" width="1" height="1"/><rect x="301" y="484" width="1" height="1"/><rect x="304" y="484" width="1" height="1"/><rect x="307" y="484" width="1" height="1"/><rect x="310" y="484" width="1" height="1"/><rect x="313" y="484" width="1" height="1"/><rect x="316" y="484" width="1" height="1"/><rect x="319" y="484" width="1" height="1"/><rect x="322" y="484" width="1" height="1"/><rect x="325" y="484" width="1" height="1"/><rect x="328" y="484" width="1" height="1"/><rect x="331" y="484" width="1" height="1"/><rect x="334" y="484" width="1" height="1"/><rect x="337" y="484" width="1" height="1"/><rect x="340" y="484" width="1" height="1"/><rect x="343" y="484" width="1" height="1"/><rect x="346" y="484" width="1" height="1"/><rect x="349" y="484" width="1" height="1"/><rect x="352" y="484" width="1" height="1"/><rect x="355" y="484" width="1" height="1"/><rect x="358" y="484" width="1" height="1"/><rect x="361" y="484" width="1" height="1"/><rect x="364" y="484" width="1" height="1"/><rect x="367" y="484" width="1" height="1"/><rect x="370" y="484" width="1" height="1"/><rect x="373" y="484" width="1" height="1"/><rect x="376" y="484" width="1" height="1"/><rect x="379" y="484" width="1" height="1"/><rect x="382" y="484" width="1" height="1"/><rect x="385" y="484" width="1" height="1"/><rect x="388" y="484" width="1" height="1"/><rect x="391" y="484" width="1" height="1"/><rect x="394" y="484" width="1" height="1"/><rect x="397" y="484" width="1" height="1"/><rect x="400" y="484" width="1" height="1"/><rect x="403" y="484" width="1" height="1"/><rect x="406" y="484" width="1" height="1"/><rect x="409" y="484" width="1" height="1"/><rect x="412" y="484" width="1" height="1"/><rect x="415" y="484" width="1" height="1"/><rect x="418" y="484" width="1" height="1"/><rect x="421" y="484" width="1" height="1"/><rect x="424" y="484" width="1" height="1"/><rect x="427" y="484" width="1" height="1"/><rect x="430" y="484" width="1" height="1"/><rect x="433" y="484" width="1" height="1"/><rect x="436" y="484" width="1" height="1"/><rect x="439" y="484" width="1" height="1"/><rect x="442" y="484" width="1" height="1"/><rect x="445" y="484" width="1" height="1"/><rect x="448" y="484" width="1" height="1"/><rect x="451" y="484" width="1" height="1"/><rect x="454" y="484" width="1" height="1"/><rect x="457" y="484" width="1" height="1"/><rect x="460" y="484" width="1" height="1"/><rect x="463" y="484" width="1" height="1"/><rect x="466" y="484" width="1" height="1"/><rect x="469" y="484" width="1" height="1"/><rect x="472" y="484" width="1" height="1"/><rect x="475" y="484" width="1" height="1"/><rect x="478" y="484" width="1" height="1"/><rect x="481" y="484" width="1" height="1"/><rect x="484" y="484" width="1" height="1"/><rect x="487" y="484" width="1" height="1"/><rect x="490" y="484" width="1" height="1"/><rect x="493" y="484" width="1" height="1"/><rect x="496" y="484" width="1" height="1"/><rect x="499" y="484" width="1" height="1"/><rect x="502" y="484" width="1" height="1"/><rect x="505" y="484" width="1" height="1"/><rect x="508" y="484" width="1" height="1"/><rect x="511" y="484" width="1" height="1"/><rect x="514" y="484" width="1" height="1"/><rect x="517" y="484" width="1" height="1"/><rect x="520" y="484" width="1" height="1"/><rect x="523" y="484" width="1" height="1"/><rect x="526" y="484" width="1" height="1"/><rect x="529" y="484" width="1" height="1"/><rect x="532" y="484" width="1" height="1"/><rect x="535" y="484" width="1" height="1"/><rect x="538" y="484" width="1" height="1"/><rect x="541" y="484" width="1" height="1"/><rect x="544" y="484" width="1" height="1"/><rect x="547" y="484" width="1" height="1"/><rect x="550" y="484" width="1" height="1"/><rect x="553" y="484" width="1" height="1"/><rect x="556" y="484" width="1" height="1"/><rect x="559" y="484" width="1" height="1"/><rect x="562" y="484" width="1" height="1"/><rect x="565" y="484" width="1" height="1"/><rect x="568" y="484" width="1" height="1"/><rect x="571" y="484" width="1" height="1"/><rect x="574" y="484" width="1" height="1"/><rect x="577" y="484" width="1" height="1"/><rect x="580" y="484" width="1" height="1"/><rect x="583" y="484" width="1" height="1"/><rect x="586" y="484" width="1" height="1"/><rect x="589" y="484" width="1" height="1"/><rect x="592" y="484" width="1" height="1"/><rect x="595" y="484" width="1" height="1"/><rect x="598" y="484" width="1" height="1"/><rect x="601" y="484" width="1" height="1"/><rect x="604" y="484" width="1" height="1"/><rect x="607" y="484" width="1" height="1"/><rect x="610" y="484" width="1" height="1"/><rect x="613" y="484" width="1" height="1"/><rect x="616" y="484" width="1" height="1"/><rect x="619" y="484" width="1" height="1"/><rect x="622" y="484" width="1" height="1"/><rect x="625" y="484" width="1" height="1"/><rect x="628" y="484" width="1" height="1"/><rect x="631" y="484" width="1" height="1"/><rect x="634" y="484" width="1" height="1"/><rect x="637" y="484" width="1" height="1"/><rect x="640" y="484" width="1" height="1"/><rect x="643" y="484" width="1" height="1"/><rect x="646" y="484" width="1" height="1"/><rect x="649" y="484" width="1" height="1"/><rect x="652" y="484" width="1" height="1"/><rect x="655" y="484" width="1" height="1"/><rect x="658" y="484" width="1" height="1"/><rect x="661" y="484" width="1" height="1"/><rect x="664" y="484" width="1" height="1"/><rect x="667" y="484" width="1" height="1"/><rect x="670" y="484" width="1" height="1"/><rect x="673" y="484" width="1" height="1"/><rect x="676" y="484" width="1" height="1"/><rect x="679" y="484" width="1" height="1"/><rect x="682" y="484" width="1" height="1"/><rect x="685" y="484" width="1" height="1"/><rect x="688" y="484" width="1" height="1"/><rect x="691" y="484" width="1" height="1"/><rect x="694" y="484" width="1" height="1"/><rect x="697" y="484" width="1" height="1"/><rect x="700" y="484" width="1" height="1"/><rect x="703" y="484" width="1" height="1"/><rect x="706" y="484" width="1" height="1"/><rect x="709" y="484" width="1" height="1"/><rect x="712" y="484" width="1" height="1"/><rect x="715" y="484" width="1" height="1"/><rect x="718" y="484" width="1" height="1"/><rect x="721" y="484" width="1" height="1"/><rect x="724" y="484" width="1" height="1"/><rect x="727" y="484" width="1" height="1"/><rect x="730" y="484" width="1" height="1"/><rect x="733" y="484" width="1" height="1"/><rect x="736" y="484" width="1" height="1"/><rect x="739" y="484" width="1" height="1"/><rect x="742" y="484" width="1" height="1"/><rect x="745" y="484" width="1" height="1"/><rect x="748" y="484" width="1" height="1"/><rect x="751" y="484" width="1" height="1"/><rect x="754" y="484" width="1" height="1"/><rect x="757" y="484" width="1" height="1"/><rect x="760" y="484" width="1" height="1"/><rect x="763" y="484" width="1" height="1"/><rect x="766" y="484" width="1" height="1"/><rect x="769" y="484" width="1" height="1"/><rect x="772" y="484" width="1" height="1"/><rect x="775" y="484" width="1" height="1"/><rect x="778" y="484" width="1" height="1"/><rect x="781" y="484" width="1" height="1"/><rect x="784" y="484" width="1" height="1"/><rect x="787" y="484" width="1" height="1"/><rect x="790" y="484" width="1" height="1"/><rect x="793" y="484" width="1" height="1"/><rect x="796" y="484" width="1" height="1"/><rect x="799" y="484" width="1" height="1"/><rect x="802" y="484" width="1" height="1"/><rect x="805" y="484" width="1" height="1"/><rect x="808" y="484" width="1" height="1"/><rect x="811" y="484" width="1" height="1"/><rect x="814" y="484" width="1" height="1"/><rect x="817" y="484" width="1" height="1"/><rect x="820" y="484" width="1" height="1"/><rect x="823" y="484" width="1" height="1"/><rect x="826" y="484" width="1" height="1"/><rect x="829" y="484" width="1" height="1"/><rect x="832" y="484" width="1" height="1"/><rect x="835" y="484" width="1" height="1"/><rect x="838" y="484" width="1" height="1"/><rect x="841" y="484" width="1" height="1"/><rect x="844" y="484" width="1" height="1"/><rect x="847" y="484" width="1" height="1"/><rect x="850" y="484" width="1" height="1"/><rect x="853" y="484" width="1" height="1"/><rect x="856" y="484" width="1" height="1"/><rect x="859" y="484" width="1" height="1"/><rect x="862" y="484" width="1" height="1"/><rect x="865" y="484" width="1" height="1"/><rect x="868" y="484" width="1" height="1"/><rect x="871" y="484" width="1" height="1"/><rect x="874" y="484" width="1" height="1"/><rect x="877" y="484" width="1" height="1"/><rect x="880" y="484" width="1" height="1"/><rect x="883" y="484" width="1" height="1"/><rect x="886" y="484" width="1" height="1"/><rect x="889" y="484" width="1" height="1"/><rect x="892" y="484" width="1" height="1"/><rect x="895" y="484" width="1" height="1"/><rect x="898" y="484" width="1" height="1"/><rect x="901" y="484" width="1" height="1"/><rect x="904" y="484" width="1" height="1"/><rect x="907" y="484" width="1" height="1"/><rect x="910" y="484" width="1" height="1"/><rect x="913" y="484" width="1" height="1"/><rect x="916" y="484" width="1" height="1"/><rect x="919" y="484" width="1" height="1"/><rect x="922" y="484" width="1" height="1"/><rect x="925" y="484" width="1" height="1"/><rect x="928" y="484" width="1" height="1"/><rect x="931" y="484" width="1" height="1"/><rect x="934" y="484" width="1" height="1"/><rect x="937" y="484" width="1" height="1"/><rect x="940" y="484" width="1" height="1"/><rect x="943" y="484" width="1" height="1"/><rect x="946" y="484" width="1" height="1"/><rect x="949" y="484" width="1" height="1"/><rect x="952" y="484" width="1" height="1"/><rect x="955" y="484" width="1" height="1"/><rect x="958" y="484" width="1" height="1"/><rect x="961" y="484" width="1" height="1"/><rect x="964" y="484" width="1" height="1"/><rect x="967" y="484" width="1" height="1"/><rect x="970" y="484" width="1" height="1"/><rect x="973" y="484" width="1" height="1"/><rect x="976" y="484" width="1" height="1"/><rect x="979" y="484" width="1" height="1"/><rect x="982" y="484" width="1" height="1"/><rect x="985" y="484" width="1" height="1"/><rect x="988" y="484" width="1" height="1"/><rect x="991" y="484" width="1" height="1"/><rect x="994" y="484" width="1" height="1"/><rect x="997" y="484" width="1" height="1"/><rect x="1000" y="484" width="1" height="1"/><rect x="1003" y="484" width="1" height="1"/><rect x="1006" y="484" width="1" height="1"/><rect x="1009" y="484" width="1" height="1"/><rect x="1012" y="484" width="1" height="1"/><rect x="1015" y="484" width="1" height="1"/><rect x="1018" y="484" width="1" height="1"/><rect x="1021" y="484" width="1" height="1"/><rect x="1024" y="484" width="1" height="1"/><rect x="1027" y="484" width="1" height="1"/><rect x="1030" y="484" width="1" height="1"/><rect x="1033" y="484" width="1" height="1"/><rect x="1036" y="484" width="1" height="1"/><rect x="1039" y="484" width="1" height="1"/><rect x="1042" y="484" width="1" height="1"/><rect x="1045" y="484" width="1" height="1"/><rect x="1048" y="484" width="1" height="1"/><rect x="1051" y="484" width="1" height="1"/><rect x="1054" y="484" width="1" height="1"/><rect x="1057" y="484" width="1" height="1"/><rect x="1060" y="484" width="1" height="1"/><rect x="1063" y="484" width="1" height="1"/><rect x="1066" y="484" width="1" height="1"/><rect x="1069" y="484" width="1" height="1"/><rect x="1072" y="484" width="1" height="1"/><rect x="1075" y="484" width="1" height="1"/><rect x="1078" y="484" width="1" height="1"/><rect x="1081" y="484" width="1" height="1"/><rect x="1084" y="484" width="1" height="1"/><rect x="1087" y="484" width="1" height="1"/><rect x="1090" y="484" width="1" height="1"/><rect x="1093" y="484" width="1" height="1"/><rect x="1096" y="484" width="1" height="1"/><rect x="1099" y="484" width="1" height="1"/><rect x="1102" y="484" width="1" height="1"/><rect x="1105" y="484" width="1" height="1"/><rect x="1108" y="484" width="1" height="1"/><rect x="1111" y="484" width="1" height="1"/><rect x="1114" y="484" width="1" height="1"/><rect x="1117" y="484" width="1" height="1"/><rect x="1120" y="484" width="1" height="1"/><rect x="1123" y="484" width="1" height="1"/><rect x="1126" y="484" width="1" height="1"/><rect x="1129" y="484" width="1" height="1"/><rect x="1132" y="484" width="1" height="1"/><rect x="1135" y="484" width="1" height="1"/><rect x="1138" y="484" width="1" height="1"/><rect x="1141" y="484" width="1" height="1"/><rect x="1144" y="484" width="1" height="1"/><rect x="1147" y="484" width="1" height="1"/><rect x="1150" y="484" width="1" height="1"/><rect x="1153" y="484" width="1" height="1"/><rect x="1156" y="484" width="1" height="1"/><rect x="1159" y="484" width="1" height="1"/><rect x="1162" y="484" width="1" height="1"/><rect x="1165" y="484" width="1" height="1"/><rect x="1168" y="484" width="1" height="1"/><rect x="1171" y="484" width="1" height="1"/><rect x="1174" y="484" width="1" height="1"/><rect x="1177" y="484" width="1" height="1"/><rect x="1180" y="484" width="1" height="1"/><rect x="1183" y="484" width="1" height="1"/><rect x="1186" y="484" width="1" height="1"/><rect x="1189" y="484" width="1" height="1"/><rect x="1192" y="484" width="1" height="1"/><rect x="1195" y="484" width="1" height="1"/><rect x="1198" y="484" width="1" height="1"/><rect x="1201" y="484" width="1" height="1"/><rect x="1204" y="484" width="1" height="1"/><rect x="1207" y="484" width="1" height="1"/><rect x="1210" y="484" width="1" height="1"/><rect x="1213" y="484" width="1" height="1"/><rect x="1216" y="484" width="1" height="1"/><rect x="1219" y="484" width="1" height="1"/><rect x="1222" y="484" width="1" height="1"/><rect x="1225" y="484" width="1" height="1"/><rect x="1228" y="484" width="1" height="1"/><rect x="1231" y="484" width="1" height="1"/><rect x="1234" y="484" width="1" height="1"/><rect x="1237" y="484" width="1" height="1"/><rect x="1240" y="484" width="1" height="1"/><rect x="1243" y="484" width="1" height="1"/><rect x="1246" y="484" width="1" height="1"/><rect x="1249" y="484" width="1" height="1"/><rect x="1252" y="484" width="1" height="1"/><rect x="1255" y="484" width="1" height="1"/><rect x="1258" y="484" width="1" height="1"/><rect x="1261" y="484" width="1" height="1"/><rect x="1264" y="484" width="1" height="1"/><rect x="1267" y="484" width="1" height="1"/><rect x="1270" y="484" width="1" height="1"/><rect x="1273" y="484" width="1" height="1"/><rect x="1276" y="484" width="1" height="1"/><rect x="1279" y="484" width="1" height="1"/><rect x="1282" y="484" width="1" height="1"/><rect x="1285" y="484" width="1" height="1"/><rect x="1288" y="484" width="1" height="1"/><rect x="1291" y="484" width="1" height="1"/><rect x="1294" y="484" width="1" height="1"/><rect x="1297" y="484" width="1" height="1"/><rect x="1300" y="484" width="1" height="1"/><rect x="1303" y="484" width="1" height="1"/><rect x="1306" y="484" width="1" height="1"/><rect x="1309" y="484" width="1" height="1"/><rect x="1312" y="484" width="1" height="1"/><rect x="1315" y="484" width="1" height="1"/><rect x="1318" y="484" width="1" height="1"/><rect x="1321" y="484" width="1" height="1"/><rect x="1324" y="484" width="1" height="1"/><rect x="1327" y="484" width="1" height="1"/><rect x="1330" y="484" width="1" height="1"/><rect x="1333" y="484" width="1" height="1"/><rect x="1336" y="484" width="1" height="1"/><rect x="1339" y="484" width="1" height="1"/><rect x="1342" y="484" width="1" height="1"/><rect x="1345" y="484" width="1" height="1"/><rect x="1348" y="484" width="1" height="1"/><rect x="1351" y="484" width="1" height="1"/><rect x="1354" y="484" width="1" height="1"/><rect x="1357" y="484" width="1" height="1"/><rect x="1360" y="484" width="1" height="1"/><rect x="1363" y="484" width="1" height="1"/><rect x="1366" y="484" width="1" height="1"/><rect x="1369" y="484" width="1" height="1"/><rect x="1372" y="484" width="1" height="1"/><rect x="1375" y="484" width="1" height="1"/><rect x="1378" y="484" width="1" height="1"/><rect x="1381" y="484" width="1" height="1"/><rect x="1384" y="484" width="1" height="1"/><rect x="1387" y="484" width="1" height="1"/><rect x="1390" y="484" width="1" height="1"/><rect x="1393" y="484" width="1" height="1"/><rect x="1396" y="484" width="1" height="1"/><rect x="1399" y="484" width="1" height="1"/><rect x="1402" y="484" width="1" height="1"/><rect x="1405" y="484" width="1" height="1"/><rect x="1408" y="484" width="1" height="1"/><rect x="1411" y="484" width="1" height="1"/><rect x="1414" y="484" width="1" height="1"/><rect x="1417" y="484" width="1" height="1"/><rect x="1420" y="484" width="1" height="1"/><rect x="1423" y="484" width="1" height="1"/><rect x="1426" y="484" width="1" height="1"/><rect x="1429" y="484" width="1" height="1"/><rect x="1432" y="484" width="1" height="1"/><rect x="1435" y="484" width="1" height="1"/><rect x="1438" y="484" width="1" height="1"/><rect x="1441" y="484" width="1" height="1"/><rect x="1444" y="484" width="1" height="1"/><rect x="1447" y="484" width="1" height="1"/><rect x="1450" y="484" width="1" height="1"/><rect x="1453" y="484" width="1" height="1"/><rect x="1456" y="484" width="1" height="1"/><rect x="1459" y="484" width="1" height="1"/><rect x="1462" y="484" width="1" height="1"/><rect x="1465" y="484" width="1" height="1"/><rect x="1468" y="484" width="1" height="1"/><rect x="1471" y="484" width="1" height="1"/><rect x="1474" y="484" width="1" height="1"/><rect x="1477" y="484" width="1" height="1"/><rect x="1480" y="484" width="1" height="1"/><rect x="1483" y="484" width="1" height="1"/><rect x="1486" y="484" width="1" height="1"/><rect x="1489" y="484" width="1" height="1"/><rect x="1492" y="484" width="1" height="1"/><rect x="1495" y="484" width="1" height="1"/><rect x="1498" y="484" width="1" height="1"/><rect x="1501" y="484" width="1" height="1"/><rect x="1504" y="484" width="1" height="1"/><rect x="1507" y="484" width="1" height="1"/><rect x="1510" y="484" width="1" height="1"/><rect x="1513" y="484" width="1" height="1"/><rect x="1516" y="484" width="1" height="1"/><rect x="1519" y="484" width="1" height="1"/><rect x="1522" y="484" width="1" height="1"/><rect x="1525" y="484" width="1" height="1"/><rect x="1528" y="484" width="1" height="1"/><rect x="1531" y="484" width="1" height="1"/><rect x="1534" y="484" width="1" height="1"/><rect x="1537" y="484" width="1" height="1"/><rect x="1540" y="484" width="1" height="1"/><rect x="1543" y="484" width="1" height="1"/><rect x="1546" y="484" width="1" height="1"/><rect x="1549" y="484" width="1" height="1"/><rect x="1552" y="484" width="1" height="1"/><rect x="1555" y="484" width="1" height="1"/><rect x="1558" y="484" width="1" height="1"/><rect x="1561" y="484" width="1" height="1"/><rect x="1564" y="484" width="1" height="1"/><rect x="1567" y="484" width="1" height="1"/><rect x="1570" y="484" width="1" height="1"/><rect x="1573" y="484" width="1" height="1"/><rect x="1576" y="484" width="1" height="1"/><rect x="1579" y="484" width="1" height="1"/><rect x="1582" y="484" width="1" height="1"/><rect x="1585" y="484" width="1" height="1"/><rect x="1588" y="484" width="1" height="1"/><rect x="1591" y="484" width="1" height="1"/><rect x="1594" y="484" width="1" height="1"/><rect x="1597" y="484" width="1" height="1"/><rect x="1600" y="484" width="1" height="1"/><rect x="1603" y="484" width="1" height="1"/><rect x="1606" y="484" width="1" height="1"/><rect x="1609" y="484" width="1" height="1"/><rect x="1612" y="484" width="1" height="1"/><rect x="1615" y="484" width="1" height="1"/><rect x="1618" y="484" width="1" height="1"/><rect x="1621" y="484" width="1" height="1"/><rect x="1624" y="484" width="1" height="1"/><rect x="1627" y="484" width="1" height="1"/><rect x="1630" y="484" width="1" height="1"/><rect x="1633" y="484" width="1" height="1"/><rect x="1636" y="484" width="1" height="1"/><rect x="1639" y="484" width="1" height="1"/><rect x="1642" y="484" width="1" height="1"/><rect x="1645" y="484" width="1" height="1"/><rect x="1648" y="484" width="1" height="1"/><rect x="1651" y="484" width="1" height="1"/><rect x="1654" y="484" width="1" height="1"/><rect x="1657" y="484" width="1" height="1"/><rect x="1660" y="484" width="1" height="1"/><rect x="1663" y="484" width="1" height="1"/><rect x="1666" y="484" width="1" height="1"/><rect x="1669" y="484" width="1" height="1"/><rect x="1672" y="484" width="1" height="1"/><rect x="1675" y="484" width="1" height="1"/><rect x="1678" y="484" width="1" height="1"/><rect x="1681" y="484" width="1" height="1"/><rect x="1684" y="484" width="1" height="1"/><rect x="1687" y="484" width="1" height="1"/><rect x="1690" y="484" width="1" height="1"/><rect x="1693" y="484" width="1" height="1"/><rect x="1696" y="484" width="1" height="1"/><rect x="1699" y="484" width="1" height="1"/><rect x="1702" y="484" width="1" height="1"/><rect x="1705" y="484" width="1" height="1"/><rect x="1708" y="484" width="1" height="1"/><rect x="1711" y="484" width="1" height="1"/><rect x="1714" y="484" width="1" height="1"/><rect x="1717" y="484" width="1" height="1"/><rect x="1720" y="484" width="1" height="1"/><rect x="1723" y="484" width="1" height="1"/><rect x="1726" y="484" width="1" height="1"/><rect x="1729" y="484" width="1" height="1"/><rect x="1732" y="484" width="1" height="1"/><rect x="1735" y="484" width="1" height="1"/><rect x="1738" y="484" width="1" height="1"/><rect x="1741" y="484" width="1" height="1"/><rect x="1744" y="484" width="1" height="1"/><rect x="1747" y="484" width="1" height="1"/><rect x="1750" y="484" width="1" height="1"/><rect x="1753" y="484" width="1" height="1"/><rect x="1756" y="484" width="1" height="1"/><rect x="1759" y="484" width="1" height="1"/><rect x="1762" y="484" width="1" height="1"/><rect x="1765" y="484" width="1" height="1"/><rect x="1768" y="484" width="1" height="1"/><rect x="1771" y="484" width="1" height="1"/><rect x="1774" y="484" width="1" height="1"/><rect x="1777" y="484" width="1" height="1"/><rect x="1780" y="484" width="1" height="1"/><rect x="1783" y="484" width="1" height="1"/><rect x="1786" y="484" width="1" height="1"/><rect x="1789" y="484" width="1" height="1"/><rect x="1792" y="484" width="1" height="1"/><rect x="1795" y="484" width="1" height="1"/><rect x="1798" y="484" width="1" height="1"/><rect x="1801" y="484" width="1" height="1"/><rect x="1804" y="484" width="1" height="1"/><rect x="1807" y="484" width="1" height="1"/><rect x="1810" y="484" width="1" height="1"/><rect x="1813" y="484" width="1" height="1"/><rect x="1816" y="484" width="1" height="1"/></g>
<g fill="#141518" shape-rendering="geometricPrecision" transform="translate(9.96,716.95) scale(0.54)"><path d="M14.3 22H7.1V11H0V4h14.3v18zM29.1 22h-8.5l6.5-18h9.1L29.1 22z"/><circle cx="20.55" cy="7.7" r="3.3"/></g>
</svg>
<div class="t" style="left:9.47px;top:-0.3px;font-size:12px;color:#15161b;letter-spacing:-0.08px;-webkit-text-stroke:0.2px #15161b;">Published</div><div class="t" style="left:65.1px;top:-0.3px;font-size:12px;color:#15161b;letter-spacing:-0.26px;-webkit-text-stroke:0.2px #15161b;">on</div><div class="t" style="left:81.9px;top:-0.3px;font-size:12px;color:#15161b;letter-spacing:-0.01px;-webkit-text-stroke:0.2px #15161b;">TradingView.com,</div><div class="t" style="left:179.17px;top:-0.3px;font-size:12px;color:#15161b;letter-spacing:-0.09px;-webkit-text-stroke:0.2px #15161b;">Mar</div><div class="t" style="left:204.1px;top:-0.3px;font-size:12px;color:#15161b;letter-spacing:-0.3px;-webkit-text-stroke:0.2px #15161b;">15,</div><div class="t" style="left:223.93px;top:-0.3px;font-size:12px;color:#15161b;letter-spacing:-0.36px;-webkit-text-stroke:0.2px #15161b;">2025</div><div class="t" style="left:252.21px;top:-0.3px;font-size:12px;color:#15161b;letter-spacing:0.02px;-webkit-text-stroke:0.2px #15161b;">05:46</div><div class="t" style="left:285.4px;top:-0.3px;font-size:12px;color:#15161b;transform:scaleX(0.926);-webkit-text-stroke:0.2px #15161b;">UTC</div><div class="t" style="left:17.31px;top:27.25px;font-size:12px;color:#15161b;letter-spacing:0.25px;-webkit-text-stroke:0.2px #15161b;">Pi Network/Tether</div><div class="t" style="left:121.15px;top:27.03px;font-size:14px;color:#15161b;font-weight:700;">·</div><div class="t" style="left:128.85px;top:27.25px;font-size:12px;color:#15161b;letter-spacing:-0.68px;-webkit-text-stroke:0.2px #15161b;">1h</div><div class="t" style="left:145.95px;top:27.03px;font-size:14px;color:#15161b;font-weight:700;">·</div><div class="t" style="left:153.35px;top:27.25px;font-size:12px;color:#15161b;transform:scaleX(0.863);-webkit-text-stroke:0.2px #15161b;">OKX</div><div class="t" style="left:181.88px;top:27.25px;font-size:12px;color:#15161b;transform:scaleX(0.881);-webkit-text-stroke:0.2px #15161b;">O</div><div class="t" style="left:191.45px;top:27.25px;font-size:12px;color:#f23645;letter-spacing:-0.42px;-webkit-text-stroke:0.2px #f23645;">1.4455</div><div class="t" style="left:233.06px;top:27.25px;font-size:12px;color:#15161b;transform:scaleX(0.951);-webkit-text-stroke:0.2px #15161b;">H</div><div class="t" style="left:241.55px;top:27.25px;font-size:12px;color:#f23645;letter-spacing:-0.26px;-webkit-text-stroke:0.2px #f23645;">1.4457</div><div class="t" style="left:283.8px;top:27.25px;font-size:12px;color:#15161b;transform:scaleX(0.972);-webkit-text-stroke:0.2px #15161b;">L</div><div class="t" style="left:291.34px;top:27.25px;font-size:12px;color:#f23645;letter-spacing:-0.54px;-webkit-text-stroke:0.2px #f23645;">1.4241</div><div class="t" style="left:333.3px;top:27.25px;font-size:12px;color:#15161b;transform:scaleX(0.805);-webkit-text-stroke:0.2px #15161b;">C</div><div class="t" style="left:341.25px;top:27.25px;font-size:12px;color:#f23645;letter-spacing:-0.32px;-webkit-text-stroke:0.2px #f23645;">1.4359</div><div class="t" style="left:383.2px;top:27.25px;font-size:12px;color:#f23645;letter-spacing:-0.37px;-webkit-text-stroke:0.2px #f23645;">−0.0101</div><div class="t" style="left:430.15px;top:27.25px;font-size:12px;color:#f23645;letter-spacing:-0.52px;-webkit-text-stroke:0.2px #f23645;">(−0.70%)</div><div class="t" style="left:18.19px;top:43.9px;font-size:12px;color:#15161b;letter-spacing:-0.32px;-webkit-text-stroke:0.2px #15161b;">Vol</div><div class="t" style="left:38.0px;top:43.68px;font-size:14px;color:#15161b;font-weight:700;">·</div><div class="t" style="left:45.77px;top:43.9px;font-size:12px;color:#15161b;transform:scaleX(0.915);-webkit-text-stroke:0.2px #15161b;">PI</div><div class="t" style="left:63.67px;top:43.9px;font-size:12px;color:#ef5350;letter-spacing:0.25px;-webkit-text-stroke:0.2px #ef5350;">2.44M</div><div style="position:absolute;left:0;top:29px;width:1872px;height:677px;overflow:hidden"><div style="position:absolute;left:0;top:-29px"><div class="t" style="left:1826.62px;top:13.44px;font-size:12.5px;color:#15161b;letter-spacing:-0.38px;-webkit-text-stroke:0.2px #15161b;">2.1000</div><div class="t" style="left:1826.62px;top:47.8px;font-size:12.5px;color:#15161b;letter-spacing:-0.38px;-webkit-text-stroke:0.2px #15161b;">2.0500</div><div class="t" style="left:1826.62px;top:82.16px;font-size:12.5px;color:#15161b;letter-spacing:-0.38px;-webkit-text-stroke:0.2px #15161b;">2.0000</div><div class="t" style="left:1826.78px;top:116.52px;font-size:12.5px;color:#15161b;letter-spacing:-0.41px;-webkit-text-stroke:0.2px #15161b;">1.9500</div><div class="t" style="left:1826.78px;top:150.88px;font-size:12.5px;color:#15161b;letter-spacing:-0.41px;-webkit-text-stroke:0.2px #15161b;">1.9000</div><div class="t" style="left:1826.78px;top:185.24px;font-size:12.5px;color:#15161b;letter-spacing:-0.41px;-webkit-text-stroke:0.2px #15161b;">1.8500</div><div class="t" style="left:1826.78px;top:219.6px;font-size:12.5px;color:#15161b;letter-spacing:-0.41px;-webkit-text-stroke:0.2px #15161b;">1.8000</div><div class="t" style="left:1826.78px;top:253.96px;font-size:12.5px;color:#15161b;letter-spacing:-0.41px;-webkit-text-stroke:0.2px #15161b;">1.7500</div><div class="t" style="left:1826.78px;top:288.32px;font-size:12.5px;color:#15161b;letter-spacing:-0.41px;-webkit-text-stroke:0.2px #15161b;">1.7000</div><div class="t" style="left:1826.78px;top:322.68px;font-size:12.5px;color:#15161b;letter-spacing:-0.41px;-webkit-text-stroke:0.2px #15161b;">1.6500</div><div class="t" style="left:1826.78px;top:357.04px;font-size:12.5px;color:#15161b;letter-spacing:-0.41px;-webkit-text-stroke:0.2px #15161b;">1.6000</div><div class="t" style="left:1826.78px;top:391.4px;font-size:12.5px;color:#15161b;letter-spacing:-0.41px;-webkit-text-stroke:0.2px #15161b;">1.5500</div><div class="t" style="left:1826.78px;top:425.76px;font-size:12.5px;color:#15161b;letter-spacing:-0.41px;-webkit-text-stroke:0.2px #15161b;">1.5000</div><div class="t" style="left:1826.78px;top:460.12px;font-size:12.5px;color:#15161b;letter-spacing:-0.41px;-webkit-text-stroke:0.2px #15161b;">1.4500</div><div class="t" style="left:1826.78px;top:494.48px;font-size:12.5px;color:#15161b;letter-spacing:-0.41px;-webkit-text-stroke:0.2px #15161b;">1.4000</div><div class="t" style="left:1826.78px;top:528.84px;font-size:12.5px;color:#15161b;letter-spacing:-0.41px;-webkit-text-stroke:0.2px #15161b;">1.3500</div><div class="t" style="left:1826.78px;top:563.2px;font-size:12.5px;color:#15161b;letter-spacing:-0.41px;-webkit-text-stroke:0.2px #15161b;">1.3000</div><div class="t" style="left:1826.78px;top:597.56px;font-size:12.5px;color:#15161b;letter-spacing:-0.41px;-webkit-text-stroke:0.2px #15161b;">1.2500</div><div class="t" style="left:1826.78px;top:631.92px;font-size:12.5px;color:#15161b;letter-spacing:-0.41px;-webkit-text-stroke:0.2px #15161b;">1.2000</div></div></div><div style="position:absolute;left:1820px;top:476px;width:48px;height:17px;border-radius:0 2px 2px 0;background:#f23645"></div><div style="position:absolute;left:1820px;top:653px;width:46px;height:17px;border-radius:0 2px 2px 0;background:#ef5350"></div><div class="t" style="left:54.88px;top:678.1px;font-size:12.5px;color:#15161b;letter-spacing:-0.28px;-webkit-text-stroke:0.2px #15161b;">12:00</div><div class="t" style="left:138.89px;top:678.1px;font-size:12.5px;color:#15161b;-webkit-text-stroke:0.2px #15161b;">4</div><div class="t" style="left:198.88px;top:678.1px;font-size:12.5px;color:#15161b;letter-spacing:-0.28px;-webkit-text-stroke:0.2px #15161b;">12:00</div><div class="t" style="left:282.73px;top:678.1px;font-size:12.5px;color:#15161b;-webkit-text-stroke:0.2px #15161b;">5</div><div class="t" style="left:342.88px;top:678.1px;font-size:12.5px;color:#15161b;letter-spacing:-0.28px;-webkit-text-stroke:0.2px #15161b;">12:00</div><div class="t" style="left:426.8px;top:678.1px;font-size:12.5px;color:#15161b;-webkit-text-stroke:0.2px #15161b;">6</div><div class="t" style="left:486.88px;top:678.1px;font-size:12.5px;color:#15161b;letter-spacing:-0.28px;-webkit-text-stroke:0.2px #15161b;">12:00</div><div class="t" style="left:570.82px;top:678.1px;font-size:12.5px;color:#15161b;-webkit-text-stroke:0.2px #15161b;">7</div><div class="t" style="left:630.88px;top:678.1px;font-size:12.5px;color:#15161b;letter-spacing:-0.28px;-webkit-text-stroke:0.2px #15161b;">12:00</div><div class="t" style="left:714.83px;top:678.1px;font-size:12.5px;color:#15161b;-webkit-text-stroke:0.2px #15161b;">8</div><div class="t" style="left:774.88px;top:678.1px;font-size:12.5px;color:#15161b;letter-spacing:-0.28px;-webkit-text-stroke:0.2px #15161b;">12:00</div><div class="t" style="left:858.81px;top:678.1px;font-size:12.5px;color:#15161b;-webkit-text-stroke:0.2px #15161b;">9</div><div class="t" style="left:918.88px;top:678.1px;font-size:12.5px;color:#15161b;letter-spacing:-0.28px;-webkit-text-stroke:0.2px #15161b;">12:00</div><div class="t" style="left:999.34px;top:678.1px;font-size:12.5px;color:#15161b;letter-spacing:-0.3px;font-weight:700;-webkit-text-stroke:0.2px #15161b;">10</div><div class="t" style="left:1062.88px;top:678.1px;font-size:12.5px;color:#15161b;letter-spacing:-0.28px;-webkit-text-stroke:0.2px #15161b;">12:00</div><div class="t" style="left:1143.8px;top:678.1px;font-size:12.5px;color:#15161b;letter-spacing:-0.3px;-webkit-text-stroke:0.2px #15161b;">11</div><div class="t" style="left:1206.88px;top:678.1px;font-size:12.5px;color:#15161b;letter-spacing:-0.28px;-webkit-text-stroke:0.2px #15161b;">12:00</div><div class="t" style="left:1287.3px;top:678.1px;font-size:12.5px;color:#15161b;letter-spacing:-0.3px;-webkit-text-stroke:0.2px #15161b;">12</div><div class="t" style="left:1350.88px;top:678.1px;font-size:12.5px;color:#15161b;letter-spacing:-0.28px;-webkit-text-stroke:0.2px #15161b;">12:00</div><div class="t" style="left:1431.3px;top:678.1px;font-size:12.5px;color:#15161b;letter-spacing:-0.3px;-webkit-text-stroke:0.2px #15161b;">13</div><div class="t" style="left:1494.88px;top:678.1px;font-size:12.5px;color:#15161b;letter-spacing:-0.28px;-webkit-text-stroke:0.2px #15161b;">12:00</div><div class="t" style="left:1575.1px;top:678.1px;font-size:12.5px;color:#15161b;letter-spacing:-0.3px;-webkit-text-stroke:0.2px #15161b;">14</div><div class="t" style="left:1638.88px;top:678.1px;font-size:12.5px;color:#15161b;letter-spacing:-0.28px;-webkit-text-stroke:0.2px #15161b;">12:00</div><div class="t" style="left:1719.3px;top:678.1px;font-size:12.5px;color:#15161b;letter-spacing:-0.3px;-webkit-text-stroke:0.2px #15161b;">15</div><div class="t" style="left:1782.88px;top:678.1px;font-size:12.5px;color:#15161b;letter-spacing:-0.28px;-webkit-text-stroke:0.2px #15161b;">12:00</div><div class="t" style="left:1826.25px;top:470.0px;font-size:12.5px;color:#ffffff;letter-spacing:-0.28px;-webkit-text-stroke:0.35px #fff;">1.4359</div><div class="t" style="left:1826.48px;top:647.0px;font-size:12.5px;color:#ffffff;letter-spacing:0.19px;-webkit-text-stroke:0.35px #fff;">2.44M</div><div class="t" style="left:32.84px;top:709.7px;font-size:12.6px;color:#15161b;letter-spacing:0.15px;-webkit-text-stroke:0.2px #15161b;">TradingView</div>
</body></html>
